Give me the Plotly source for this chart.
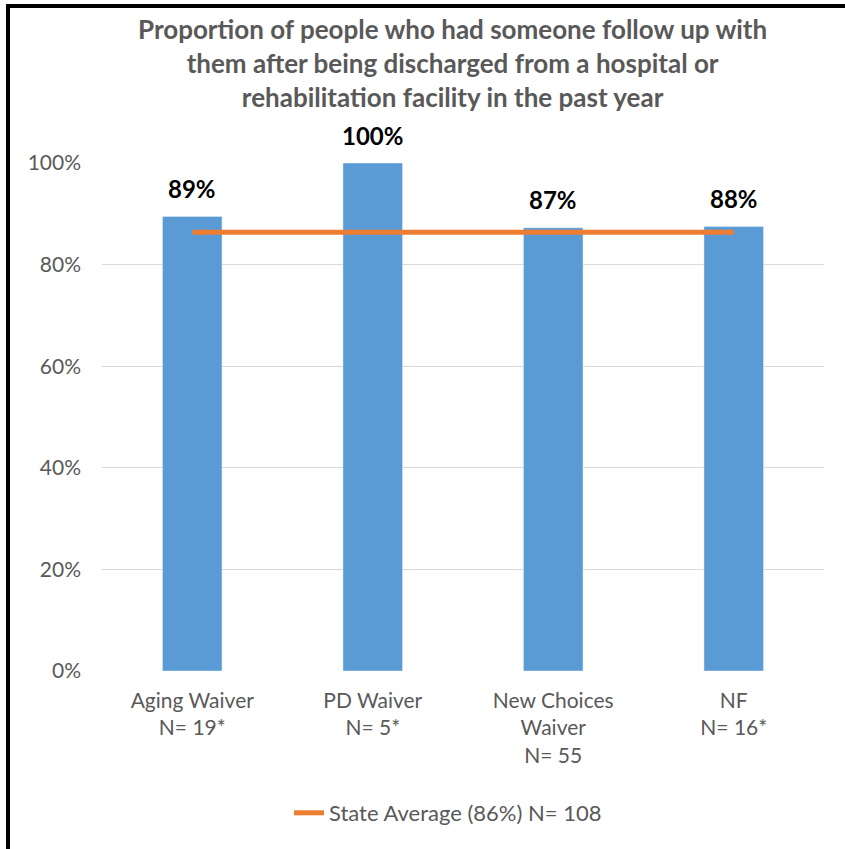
import plotly.graph_objects as go

categories = ["Aging Waiver<br>N= 19*", "PD Waiver<br>N= 5*", "New Choices<br>Waiver<br>N= 55", "NF<br>N= 16*"]
values = [0.8947, 1.0, 0.8727, 0.875]
value_labels = ["89%", "100%", "87%", "88%"]
state_average = [0.864, 0.864, 0.864, 0.864]
avg_name = "State Average (86%) N= 108"
title_text = ("Proportion of people who had someone follow up with<br>"
              "them after being discharged from a hospital or<br>"
              "rehabilitation facility in the past year")
y_ticks = [0, 0.2, 0.4, 0.6, 0.8, 1.0]
y_ticklabels = ["0%", "20%", "40%", "60%", "80%", "100%"]

FONT = "Lato, 'Open Sans', sans-serif"
GRAY = "#595959"
W, H = 845, 849
L, R, T, B = 102, 21, 163, 178
pw, ph = W - L - R, H - T - B

fig = go.Figure()
fig.add_trace(go.Bar(x=categories, y=values, marker_color="#5B9BD5", width=0.33,
                     showlegend=False, hoverinfo="skip"))
fig.add_trace(go.Scatter(x=categories, y=state_average, mode="lines", name=avg_name,
                         line=dict(color="#ED7D31", width=5)))

for c, v, t in zip(categories, values, value_labels):
    fig.add_annotation(x=c, y=v, text="<b>%s</b>" % t, showarrow=False, yanchor="middle",
                       yshift=28, font=dict(family=FONT, size=24, color="#000000"))

def px_x(px):
    return (px - L) / pw

def px_y(py):
    return (H - B - py) / ph

# title
fig.add_annotation(xref="paper", yref="paper", x=px_x(452), y=px_y(63), xanchor="center",
                   yanchor="middle", showarrow=False, text="<b>%s</b>" % title_text,
                   font=dict(family=FONT, size=26, color=GRAY))

# frame lines (top and left)
fig.add_shape(type="line", xref="paper", yref="paper", x0=px_x(6), x1=px_x(845),
              y0=px_y(6), y1=px_y(6), line=dict(color="black", width=4))
fig.add_shape(type="line", xref="paper", yref="paper", x0=px_x(8), x1=px_x(8),
              y0=px_y(4), y1=px_y(849), line=dict(color="black", width=4))

fig.update_layout(
    width=W, height=H,
    margin=dict(l=L, r=R, t=T, b=B, pad=0),
    paper_bgcolor="white", plot_bgcolor="white",
    font=dict(family=FONT, color=GRAY, size=21),
    bargap=0.67,
    showlegend=True,
    legend=dict(orientation="h", x=px_x(448), xanchor="center", y=px_y(813), yanchor="middle",
                font=dict(family=FONT, size=22, color=GRAY), bgcolor="rgba(0,0,0,0)"),
    xaxis=dict(showgrid=False, showline=False, ticks="", tickfont=dict(size=21, color=GRAY),
               ticklabelstandoff=15),
    yaxis=dict(range=[0, 1.0001], tickvals=y_ticks, ticktext=y_ticklabels, showgrid=True,
               gridcolor="#D9D9D9", gridwidth=1, zeroline=False, showline=False,
               ticks="", ticklabelstandoff=20, tickfont=dict(size=21, color=GRAY)),
)

fig.write_html("out.html", config={"displayModeBar": False},
               post_script="document.body.style.margin='0';")
